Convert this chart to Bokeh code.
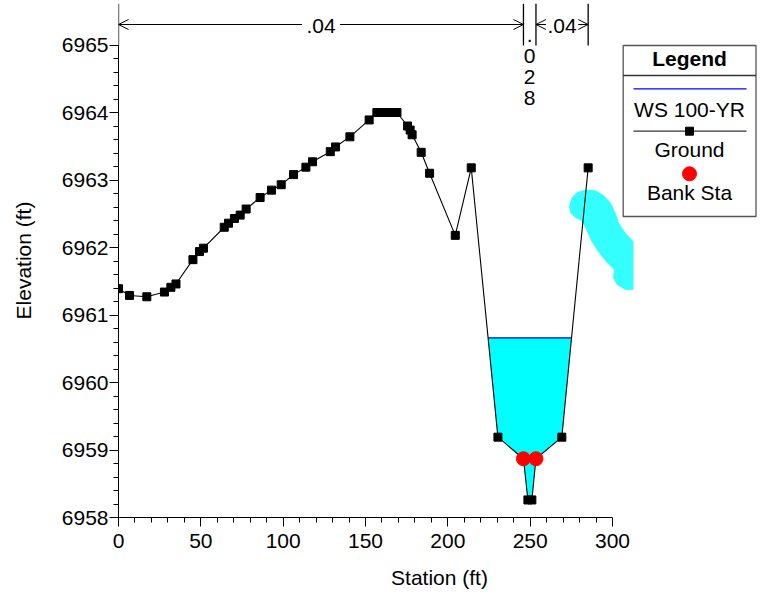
import numpy as np
from bokeh.plotting import figure
from bokeh.models import Range1d, FixedTicker, Arrow, OpenHead
from bokeh.core.properties import value
from bokeh.embed import file_html
from bokeh.resources import INLINE

# ---------------- data ----------------
station = [0.0, 6.7, 17.2, 27.9, 31.8, 34.9, 45.2, 49.2, 51.6, 64.2, 66.8, 70.4,
           73.9, 77.5, 86.0, 92.9, 98.8, 106.3, 113.8, 117.8, 128.6, 131.8, 140.5,
           152.2, 156.9, 160.9, 165.0, 169.1, 175.5, 177.1, 178.3, 183.8, 188.9,
           204.5, 214.2, 230.4, 245.9, 248.6, 251.0, 253.5, 269.2, 285.2]
elevation = [6961.39, 6961.29, 6961.27, 6961.34, 6961.41, 6961.46, 6961.82, 6961.94,
             6961.99, 6962.30, 6962.36, 6962.43, 6962.48, 6962.57, 6962.74, 6962.85,
             6962.93, 6963.08, 6963.19, 6963.27, 6963.42, 6963.49, 6963.64, 6963.89,
             6964.00, 6964.00, 6964.00, 6964.00, 6963.80, 6963.74, 6963.67, 6963.41,
             6963.10, 6962.18, 6963.18, 6959.19, 6958.87, 6958.26, 6958.26, 6958.87,
             6959.19, 6963.18]
bank_station = [245.9, 253.5]
bank_elevation = [6958.87, 6958.87]
ws_elevation = 6960.66
n_bounds = [0.0, 245.9, 253.5, 285.2]
n_values = [".04", ".028", ".04"]
blob_x = [273.9, 275.3, 278.4, 283.4, 289.5, 294.5, 298.6, 301.6, 303.6, 307.7, 312.4,
          312.4, 307.7, 303.0, 300.6, 301.2, 296.6, 291.5, 287.5, 284.4, 281.4, 277.3, 274.7]
blob_y = [6962.61, 6962.73, 6962.81, 6962.85, 6962.84, 6962.77, 6962.66, 6962.51, 6962.36,
          6962.21, 6962.09, 6961.38, 6961.38, 6961.45, 6961.55, 6961.67, 6961.78, 6961.94,
          6962.09, 6962.26, 6962.40, 6962.45, 6962.51]
x_ticks = [0, 50, 100, 150, 200, 250, 300]
y_ticks = [6958, 6959, 6960, 6961, 6962, 6963, 6964, 6965]
legend_title = "Legend"
legend_labels = ["WS 100-YR", "Ground", "Bank Sta"]
x_label = "Station (ft)"
y_label = "Elevation (ft)"

# ---------------- layout ----------------
FONT = "Liberation Sans"
FS = "21px"
W, H = 760, 596
BL, BR, BT, BB = 118, 0, 3, 79
FW, FH = W - BL - BR, H - BT - BB
XSCALE = 1.6468   # px per ft
YSCALE = 67.5     # px per ft elevation
X0, Y0 = 0.0, 6958.0
X1 = X0 + FW / XSCALE
Y1 = Y0 + FH / YSCALE
PAGE = 0


def dx(px):
    return X0 + (px - PAGE - BL) / XSCALE


def dy(py):
    return Y0 + (PAGE + BT + FH - py) / YSCALE


p = figure(width=W, height=H, x_range=Range1d(X0, X1), y_range=Range1d(Y0, Y1),
           output_backend="svg", toolbar_location=None,
           min_border_left=BL, min_border_right=BR, min_border_top=BT, min_border_bottom=BB)
p.grid.visible = False
p.outline_line_color = None
p.background_fill_color = "white"

minor_x = [v for v in np.arange(x_ticks[0], x_ticks[-1] + 0.1, 10.0) if v not in x_ticks]
minor_y = [round(v, 1) for v in np.arange(y_ticks[0], y_ticks[-1] + 0.01, 0.2)]
p.xaxis.ticker = FixedTicker(ticks=x_ticks, minor_ticks=minor_x)
p.yaxis.ticker = FixedTicker(ticks=y_ticks, minor_ticks=minor_y)
p.xaxis.bounds = (x_ticks[0], x_ticks[-1])
p.yaxis.bounds = (y_ticks[0], y_ticks[-1])
for ax in (p.xaxis[0], p.yaxis[0]):
    ax.axis_line_color = "black"
    ax.major_tick_line_color = "black"
    ax.minor_tick_line_color = "black"
    ax.major_tick_in = 0
    ax.minor_tick_in = 0
    ax.major_tick_out = 9
    ax.minor_tick_out = 5
    ax.major_label_text_font = FONT
    ax.major_label_text_font_size = FS
    ax.major_label_text_color = "black"
    ax.axis_label_text_font = FONT
    ax.axis_label_text_font_size = FS
    ax.axis_label_text_font_style = "normal"
    ax.axis_label_text_color = "black"
p.xaxis.axis_label = x_label
p.yaxis.axis_label = y_label
p.xaxis.major_label_standoff = 7
p.xaxis.axis_label_standoff = 15
p.yaxis.major_label_standoff = 1
p.yaxis.axis_label_standoff = 24

# stray cyan blob
p.patch(blob_x, blob_y, fill_color="#33FFFF", line_color="#33FFFF", line_width=1)

# water fill
st = np.array(station)
el = np.array(elevation)
imin = int(np.argmin(el))
i = imin
while el[i - 1] < ws_elevation:
    i -= 1
xl = st[i - 1] + (ws_elevation - el[i - 1]) * (st[i] - st[i - 1]) / (el[i] - el[i - 1])
j = imin
while el[j + 1] < ws_elevation:
    j += 1
xr = st[j] + (ws_elevation - el[j]) * (st[j + 1] - st[j]) / (el[j + 1] - el[j])
wx = [xl] + list(st[i:j + 1]) + [xr]
wy = [ws_elevation] + list(el[i:j + 1]) + [ws_elevation]
p.patch(wx, wy, fill_color="#00FFFF", line_color=None)
p.line([xl, xr], [ws_elevation, ws_elevation], line_color="blue", line_width=1.3)

# ground
p.line(station, elevation, line_color="black", line_width=1.1)
p.scatter(station, elevation, marker="square", size=8, fill_color="black", line_color="black")
p.scatter(bank_station, bank_elevation, marker="circle", size=14, fill_color="red", line_color="red")

# n-value markers at top
ytop = Y1
ybot_marker = dy(45)
yarr = dy(24)
p.segment(x0=n_bounds, y0=[ytop] * len(n_bounds), x1=n_bounds, y1=[ybot_marker] * len(n_bounds),
          line_color="black", line_width=1.3)
for k, lab in enumerate(n_values):
    a, b = n_bounds[k], n_bounds[k + 1]
    mid = (a + b) / 2
    seg_px = (b - a) * XSCALE
    if seg_px > 45:
        p.add_layout(Arrow(start=OpenHead(size=10, line_width=1), end=OpenHead(size=10, line_width=1),
                           x_start=a, y_start=yarr, x_end=b, y_end=yarr, line_width=1))
        r = p.rect(x=[mid], y=[yarr], width=[min(38, seg_px - 20)], height=[18],
                   width_units="screen", height_units="screen", fill_color="white", line_color=None)
        r.level = "overlay"
        t = p.text(x=[mid], y=[dy(25)], text=[lab], text_font=value(FONT), text_font_size=FS,
                   text_align="center", text_baseline="middle", text_color="black")
        t.level = "overlay"
    else:
        chars = list(lab)
        ys = [dy(34 + 21 * c) for c in range(len(chars))]
        t = p.text(x=[mid] * len(chars), y=ys, text=chars, text_font=value(FONT), text_font_size=FS,
                   text_align="center", text_baseline="alphabetic", text_color="black")
        t.level = "overlay"

# legend box
lx0, lx1 = dx(622.7), dx(755.5)
ly0, ly1 = dy(216), dy(45)
lxc = dx(689)
p.quad(left=[lx0], right=[lx1], bottom=[ly0], top=[ly1], fill_color="white", line_color="#555555", line_width=1.3)
p.line([lx0, lx1], [dy(75), dy(75)], line_color="#333333", line_width=1.3)
p.text(x=[lxc], y=[dy(58)], text=[legend_title], text_font=value(FONT), text_font_size=FS,
       text_font_style="bold", text_align="center", text_baseline="middle", text_color="black")
p.line([dx(633), dx(746)], [dy(88.3), dy(88.3)], line_color="blue", line_width=1.3)
p.line([dx(633), dx(746)], [dy(130.7), dy(130.7)], line_color="#333333", line_width=1.3)
p.scatter([lxc], [dy(130.7)], marker="square", size=8, fill_color="black", line_color="black")
p.scatter([lxc], [dy(173.3)], marker="circle", size=14, fill_color="red", line_color="red")
p.text(x=[lxc] * 3, y=[dy(108.5), dy(148.5), dy(191.5)], text=legend_labels, text_font=value(FONT),
       text_font_size=FS, text_align="center", text_baseline="middle", text_color="black")

open("out.html", "w").write(file_html(p, INLINE))
